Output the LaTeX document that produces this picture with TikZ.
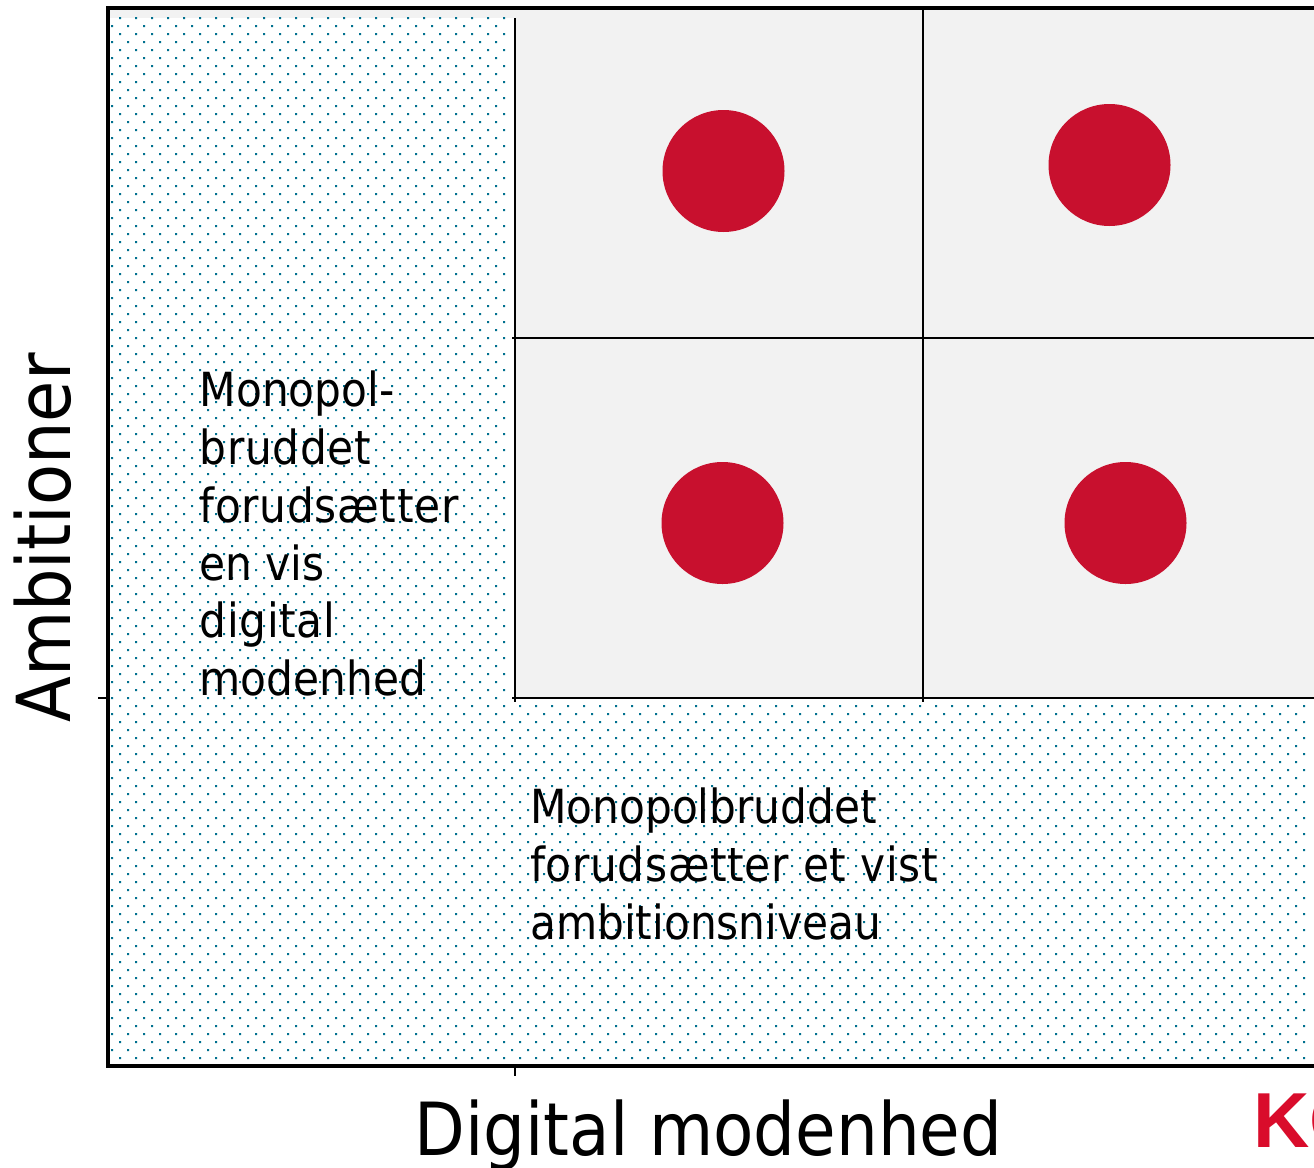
\documentclass[tikz,border=0pt]{standalone}
\usepackage{fontspec}
\setmainfont{DejaVu Sans Condensed}
\newfontfamily\kofont{Liberation Sans}
\newfontfamily\widefont[LetterSpace=1.5]{DejaVu Sans Condensed}
\definecolor{dotcol}{HTML}{00708F}
\definecolor{panel}{HTML}{F2F2F2}
\definecolor{spot}{HTML}{C8102E}
\definecolor{logo}{HTML}{D90C2B}
\tikzset{
  spotnode/.style={circle,fill=spot,draw=none,minimum size=122pt,inner sep=0pt},
  frameline/.style={line width=4pt,black,line cap=rect},
  gridline/.style={line width=2pt,black},
  body/.style={inner sep=0pt,anchor=north west,align=left,font=\fontsize{47}{57.7}\selectfont},
  axis/.style={inner sep=0pt,anchor=base,font=\fontsize{73.3}{80}\selectfont}
}
\begin{document}
\begin{tikzpicture}[x=1pt,y=-1pt]
\useasboundingbox (0,0) rectangle (1314,1167);
\clip (0,0) rectangle (1314,1167);
\fill[white] (0,0) rectangle (1314,1167);
% grey panels
\fill[panel] (515,18) rectangle (1314,698);
\fill[panel] (110,10) rectangle (1314,18);
% dots
\fill[dotcol]
  \foreach \x in {0,...,24}{\foreach \y in {0,...,42}{
    (119+16*\x,17+16*\y) rectangle ++(2,2)
    (111+16*\x,25+16*\y) rectangle ++(2,2)}};
\fill[dotcol]
  \foreach \x in {0,...,74}{\foreach \y in {43,...,65}{
    (119+16*\x,17+16*\y) rectangle ++(2,2)
    (111+16*\x,25+16*\y) rectangle ++(2,2)}};
% named points
\coordinate (tl) at (108,8);
\coordinate (tr) at (1314,8);
\coordinate (bl) at (108,1066);
\coordinate (br) at (1314,1066);
\coordinate (ytick) at (98,698);
\coordinate (ytickend) at (108,698);
\coordinate (xtick) at (515,1066);
\coordinate (xtickend) at (515,1076);
\coordinate (v1a) at (515,18);
\coordinate (v1b) at (515,702);
\coordinate (v2a) at (923,8);
\coordinate (v2b) at (923,702);
\coordinate (h1a) at (512,338);
\coordinate (h1b) at (1314,338);
\coordinate (h2a) at (512,698);
\coordinate (h2b) at (1314,698);
% grid
\draw[gridline] (v1a) -- (v1b);
\draw[gridline] (v2a) -- (v2b);
\draw[gridline] (h1a) -- (h1b);
\draw[gridline] (h2a) -- (h2b);
\draw[gridline] (ytick) -- (ytickend);
\draw[gridline] (xtick) -- (xtickend);
% frame
\draw[frameline] (tr) -- (tl) -- (bl) -- (br);
% spots
\node[spotnode] (s1) at (723.5,171) {};
\node[spotnode] (s2) at (1109.5,165) {};
\node[spotnode] (s3) at (722.5,523) {};
\node[spotnode] (s4) at (1125.5,523) {};
% text
\node[body] (lefttext) at (199.5,371) {Monopol-\\{\widefont bruddet}\\{\widefont forudsætter}\\en vis\\{\widefont digital}\\modenhed};
\node[body] (lowertext) at (530,788) {Monopolbruddet\\{\widefont forudsætter et vist}\\ambitionsniveau};
\node[axis] (xlabel) at (708.5,1155) {Digital modenhed};
\node[axis,rotate=90,font=\fontsize{74.5}{80}\selectfont] (ylabel) at (70,538) {Ambitioner};
\node[inner sep=0pt,anchor=base west,text=logo,font=\kofont\bfseries\fontsize{78}{80}\selectfont] (logo) at (1253,1147) {KO};
\end{tikzpicture}
\end{document}
